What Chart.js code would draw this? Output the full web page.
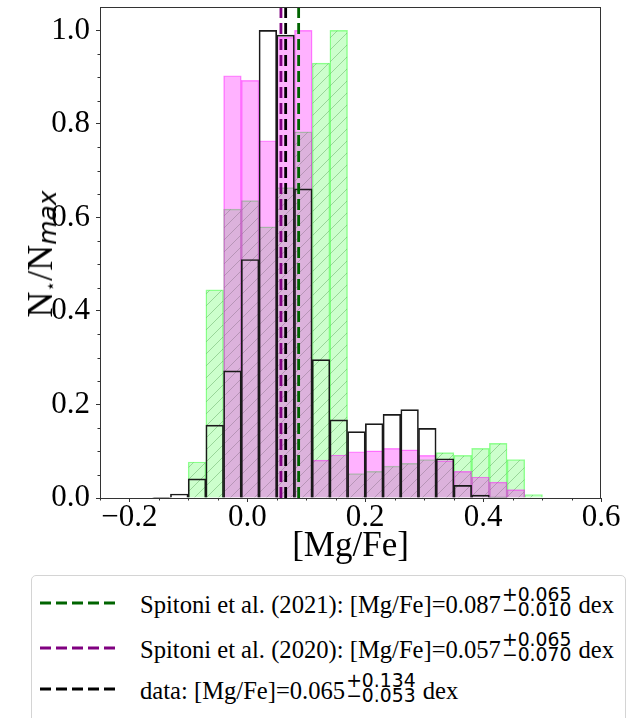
<!DOCTYPE html>
<html>
<head>
<meta charset="utf-8">
<script src="https://cdn.jsdelivr.net/npm/chart.js@4.4.1/dist/chart.umd.min.js"></script>
<style>
  body { margin: 0; background: #fff; }
  #wrap { position: relative; width: 634px; height: 718px; overflow: hidden; }
  #chart { position: absolute; left: 0; top: -16px; }
  #ylab {
    position: absolute; left: 40px; top: 254px;
    transform: translate(-50%, -50%) rotate(-90deg);
    font-family: 'Liberation Serif', serif; font-size: 36px; line-height: 1;
    white-space: nowrap; color: #000;
  }
  #ylab .star { font-family: 'DejaVu Sans', sans-serif; font-size: 17px; position: relative; top: 4px; }
  #ylab .mx { font-family: 'DejaVu Sans', sans-serif; font-style: italic; font-size: 25px; position: relative; top: 4px; }
  #legend {
    position: absolute; left: 31px; top: 575px; width: 595px; height: 160px;
    border: 1px solid #d4d4d4; border-radius: 5px; box-sizing: border-box; background: #fff;
  }
  .row { position: absolute; left: 8px; height: 40px; display: flex; align-items: center; white-space: nowrap; }
  .row svg { margin-right: 24px; }
  .txt { font-family: 'Liberation Serif', serif; font-size: 24.6px; color: #000; }
  .ss {
    display: inline-flex; flex-direction: column; vertical-align: 12px;
    font-family: 'DejaVu Sans', sans-serif; font-size: 18.8px; line-height: 15px; margin: 0 1px;
  }
</style>
</head>
<body>
<div id="wrap">
  <canvas id="chart" width="634" height="734"></canvas>
  <div id="ylab">N<span class="star">⋆</span>/N<span class="mx">max</span></div>
  <div id="legend"></div>
</div>
<script>
// bin centres of the [Mg/Fe] histograms
const binCenters = [-0.1455, -0.1155, -0.0854, -0.0554, -0.0253, 0.0047, 0.0348, 0.0648, 0.0949, 0.1250, 0.1550,
                    0.1851, 0.2152, 0.2452, 0.2753, 0.3053, 0.3354, 0.3655, 0.3955, 0.4256, 0.4557, 0.4857];

// N*/Nmax per bin
const dataHist  = [0.0015, 0.0086, 0.041, 0.156, 0.272, 0.51, 1.0, 0.99, 0.661, 0.296, 0.167,
                   0.142, 0.159, 0.179, 0.189, 0.149, 0.084, 0.027, 0.006, 0.002, 0, 0];
const model2020 = [0, 0, 0, 0, 0.903, 0.893, 0.764, 0.985, 1.0, 0.081, 0.092,
                   0.099, 0.101, 0.106, 0.103, 0.091, 0.08, 0.057, 0.045, 0.034, 0.018, 0];
const model2021 = [0, 0, 0.077, 0.445, 0.618, 0.636, 0.58, 0.664, 0.783, 0.93, 1.0,
                   0.052, 0.057, 0.068, 0.074, 0.082, 0.097, 0.091, 0.106, 0.117, 0.082, 0.0075];

// median values (vertical dashed lines)
const refNames  = ['Spitoni et al. (2021)', 'Spitoni et al. (2020)', 'data'];
const refValues = [0.087, 0.057, 0.065];
const refPlus   = ['+0.065', '+0.065', '+0.134'];
const refMinus  = ['\u22120.010', '\u22120.070', '\u22120.053'];
const refColors = ['#006400', '#800080', '#000000'];

const xTicks = [-0.2, 0.0, 0.2, 0.4, 0.6];
const yTicks = [0.0, 0.2, 0.4, 0.6, 0.8, 1.0];
const xMinor = [-0.25, -0.15, -0.1, -0.05, 0.05, 0.1, 0.15, 0.25, 0.3, 0.35, 0.45, 0.5, 0.55];
const yMinor = [0.05, 0.1, 0.15, 0.25, 0.3, 0.35, 0.45, 0.5, 0.55, 0.65, 0.7, 0.75, 0.85, 0.9, 0.95];

function hatch(fill, line) {
    const s = 12;
    const c = document.createElement('canvas');
    c.width = s; c.height = s;
    const g = c.getContext('2d');
    g.fillStyle = fill;
    g.fillRect(0, 0, s, s);
    g.strokeStyle = line;
    g.lineWidth = 1;
    g.beginPath();
    g.moveTo(0, s); g.lineTo(s, 0);
    g.moveTo(-2, 2); g.lineTo(2, -2);
    g.moveTo(s - 2, s + 2); g.lineTo(s + 2, s - 2);
    g.stroke();
    return g.createPattern(c, 'repeat');
}

const toPoints = vals => binCenters.map((x, i) => ({ x: x, y: vals[i] }));
const vline = v => [{ x: v, y: 0 }, { x: v, y: 1.05 }];

const framePlugin = {
    id: 'frame',
    afterDraw(chart) {
        const { ctx, chartArea: a, scales } = chart;
        ctx.save();
        ctx.strokeStyle = '#333';
        ctx.lineWidth = 1;
        ctx.strokeRect(a.left + 0.5, a.top + 0.5, a.right - a.left - 1, a.bottom - a.top);
        ctx.beginPath();
        xMinor.forEach(v => {
            const px = Math.round(scales.x.getPixelForValue(v)) + 0.5;
            ctx.moveTo(px, a.bottom); ctx.lineTo(px, a.bottom + 2.5);
        });
        yMinor.forEach(v => {
            const py = Math.round(scales.y.getPixelForValue(v)) + 0.5;
            ctx.moveTo(a.left, py); ctx.lineTo(a.left - 2.5, py);
        });
        ctx.stroke();
        ctx.restore();
    }
};

const lineDatasets = refValues.map((v, i) => ({
    type: 'line',
    label: refNames[i],
    data: vline(v),
    borderColor: refColors[i],
    borderWidth: 2.8,
    borderDash: [11, 5],
    pointRadius: 0,
    order: -1 - i
}));

const barCommon = { type: 'bar', grouped: false, barPercentage: 1, categoryPercentage: 1 };

new Chart(document.getElementById('chart'), {
    type: 'bar',
    data: {
        datasets: [
            ...lineDatasets,
            Object.assign({}, barCommon, {
                label: 'data',
                data: toPoints(dataHist),
                backgroundColor: 'rgba(0,0,0,0)',
                borderColor: '#1a1a1a',
                borderWidth: 1,
                order: 1
            }),
            Object.assign({}, barCommon, {
                label: 'Spitoni et al. (2020)',
                data: toPoints(model2020),
                backgroundColor: 'rgba(255,0,255,0.3)',
                borderColor: 'rgba(255,0,255,0.45)',
                borderWidth: 0.8,
                order: 2
            }),
            Object.assign({}, barCommon, {
                label: 'Spitoni et al. (2021)',
                data: toPoints(model2021),
                backgroundColor: hatch('rgba(0,255,0,0.2)', 'rgba(30,120,30,0.3)'),
                borderColor: 'rgba(0,255,0,0.4)',
                borderWidth: 0.8,
                order: 3
            })
        ]
    },
    options: {
        responsive: false,
        animation: false,
        layout: { padding: { left: 0, right: 33, top: 23, bottom: 150 } },
        plugins: { legend: { display: false }, tooltip: { enabled: false } },
        scales: {
            x: {
                type: 'linear',
                min: -0.25,
                max: 0.6,
                offset: false,
                afterBuildTicks: s => { s.ticks = xTicks.map(v => ({ value: v })); },
                afterFit: s => { s.height = 70; },
                grid: { offset: false, drawOnChartArea: false, tickLength: 4, color: '#333' },
                border: { display: false },
                ticks: {
                    autoSkip: false, maxRotation: 0, padding: 0,
                    color: '#000',
                    font: { family: 'Liberation Serif', size: 31, lineHeight: 1 },
                    callback: v => v.toFixed(1).replace('-', '\u2212')
                },
                title: {
                    display: true, text: '[Mg/Fe]', color: '#000',
                    padding: { top: 0, bottom: 0 },
                    font: { family: 'Liberation Serif', size: 35, lineHeight: 1.2 }
                }
            },
            y: {
                min: 0,
                max: 1.05,
                afterBuildTicks: s => { s.ticks = yTicks.map(v => ({ value: v })); },
                afterFit: s => { s.width = 100; },
                grid: { drawOnChartArea: false, tickLength: 4, color: '#333' },
                border: { display: false },
                ticks: {
                    padding: 6, color: '#000',
                    font: { family: 'Liberation Serif', size: 31, lineHeight: 1 },
                    callback: v => v.toFixed(1)
                }
            }
        }
    },
    plugins: [framePlugin]
});

// legend below the axes
const legend = document.getElementById('legend');
const rowTops = [7, 52, 93];
refNames.forEach((name, i) => {
    const row = document.createElement('div');
    row.className = 'row';
    row.style.top = rowTops[i] + 'px';
    row.innerHTML =
        `<svg width="76" height="8"><line x1="0" y1="4" x2="76" y2="4" stroke="${refColors[i]}" stroke-width="2.8" stroke-dasharray="11 5"/></svg>` +
        `<span class="txt">${name}: [Mg/Fe]=${refValues[i].toFixed(3)}<span class="ss"><span>${refPlus[i]}</span><span>${refMinus[i]}</span></span> dex</span>`;
    legend.appendChild(row);
});
</script>
</body>
</html>
